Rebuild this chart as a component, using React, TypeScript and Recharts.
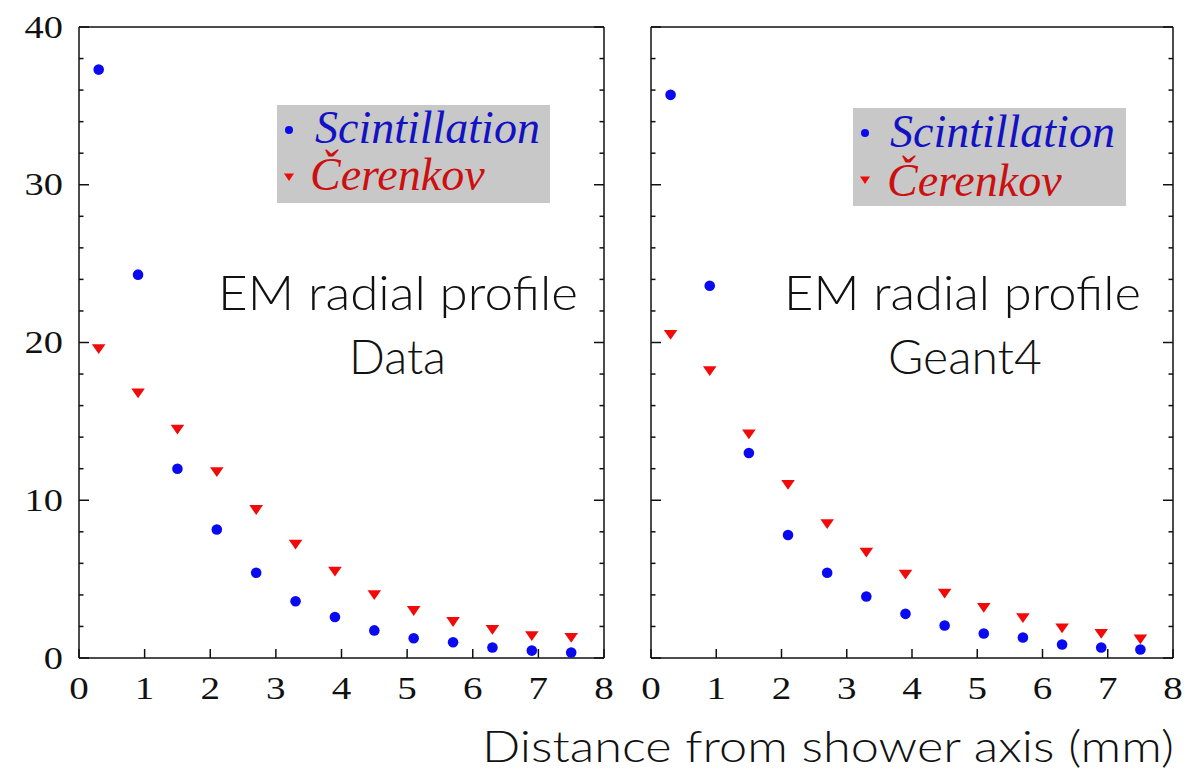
import React from 'react';
import { ScatterChart, Scatter, XAxis, YAxis, Legend } from 'recharts';

const distances = [0.3, 0.9, 1.5, 2.1, 2.7, 3.3, 3.9, 4.5, 5.1, 5.7, 6.3, 6.9, 7.5];
const dataScintillation = [37.3, 24.3, 12.0, 8.15, 5.4, 3.6, 2.6, 1.75, 1.25, 1.0, 0.67, 0.47, 0.35];
const dataCerenkov = [19.6, 16.8, 14.5, 11.8, 9.4, 7.2, 5.5, 4.0, 3.0, 2.3, 1.8, 1.4, 1.3];
const geantScintillation = [35.7, 23.6, 13.0, 7.8, 5.4, 3.9, 2.8, 2.06, 1.55, 1.3, 0.86, 0.67, 0.54];
const geantCerenkov = [20.5, 18.2, 14.2, 11.0, 8.5, 6.7, 5.3, 4.1, 3.2, 2.55, 1.9, 1.55, 1.2];
const xTicks = [0, 1, 2, 3, 4, 5, 6, 7, 8];
const yTicks = [0, 2, 4, 6, 8, 10, 12, 14, 16, 18, 20, 22, 24, 26, 28, 30, 32, 34, 36, 38, 40];
const yMajor = [0, 10, 20, 30, 40];
const seriesNames = ['Scintillation', 'Čerenkov'];
const panelTitles = [['EM radial profile', 'Data'], ['EM radial profile', 'Geant4']];
const axisTitle = 'Distance from shower axis (mm)';

const BLUE = '#0a0af0';
const RED = '#f00a0a';
const AXIS = '#111';
const SERIF = "'Liberation Serif', 'Times New Roman', Tinos, 'Nimbus Roman', FreeSerif, Times, serif";
const SANS = "Lato, 'Open Sans', sans-serif";

const toPoints = (ys: number[]) => distances.map((x, i) => ({ x, y: ys[i] }));

const Circle = (p: any) => <circle cx={p.cx} cy={p.cy} r={5.3} fill={BLUE} />;
const Tri = (p: any) => (
  <polygon
    points={`${p.cx - 6.8},${p.cy - 4.6} ${p.cx + 6.8},${p.cy - 4.6} ${p.cx},${p.cy + 5.2}`}
    fill={RED}
  />
);

const serifStyle = { fontFamily: SERIF };

const BottomTick = (p: any) => (
  <g>
    <line x1={p.x} y1={p.y} x2={p.x} y2={p.y - 9} stroke={AXIS} strokeWidth={1.5} />
    <text
      transform={`translate(${p.x},${p.y + 41}) scale(1.22,1)`}
      textAnchor="middle"
      style={serifStyle}
      fontSize={32}
      fill="#111"
    >
      {p.payload.value}
    </text>
  </g>
);
const TopTick = (p: any) => (
  <line x1={p.x} y1={p.y} x2={p.x} y2={p.y + 8} stroke={AXIS} strokeWidth={1.5} />
);
const makeLeftTick = (labels: boolean) => (p: any) => {
  const major = yMajor.includes(p.payload.value);
  return (
    <g>
      <line x1={p.x} y1={p.y} x2={p.x + (major ? 10 : 4.5)} y2={p.y} stroke={AXIS} strokeWidth={1.5} />
      {labels && major ? (
        <text
          transform={`translate(${p.x - 16},${p.y + 10.5}) scale(1.2,1)`}
          textAnchor="end"
          style={serifStyle}
          fontSize={32}
          fill="#111"
        >
          {p.payload.value}
        </text>
      ) : null}
    </g>
  );
};
const RightTick = (p: any) => {
  const major = yMajor.includes(p.payload.value);
  return <line x1={p.x} y1={p.y} x2={p.x - (major ? 10 : 4.5)} y2={p.y} stroke={AXIS} strokeWidth={1.5} />;
};

const PAD = 14;
const makeLegend = (pos: { dotX: number; dotY: number; sX: number; sY: number; cX: number; cY: number; triY: number }) => () => (
  <svg width={273 + 2 * PAD} height={98 + 2 * PAD} style={{ display: 'block' }}>
    <g transform={`translate(${PAD},${PAD})`}>
      <rect x={0} y={0} width={273} height={98} fill="#c8c8c8" />
      <circle cx={pos.dotX} cy={pos.dotY} r={4} fill={BLUE} />
      <text x={pos.sX} y={pos.sY} style={{ fontFamily: SERIF, fontStyle: 'italic', fontSize: 46 }} fill="#1212c4">
        {seriesNames[0]}
      </text>
      <polygon
        points={`${pos.dotX - 5},${pos.triY - 3.5} ${pos.dotX + 5},${pos.triY - 3.5} ${pos.dotX},${pos.triY + 4}`}
        fill={RED}
      />
      <text x={pos.cX} y={pos.cY} style={{ fontFamily: SERIF, fontStyle: 'italic', fontSize: 46 }} fill="#cc1010">
        {seriesNames[1]}
      </text>
    </g>
  </svg>
);

type PanelProps = {
  left: number;
  width: number;
  yAxisWidth: number;
  labels: boolean;
  scint: number[];
  ceren: number[];
  legendPos: { left: number; top: number };
  legend: any;
};

const Panel = ({ left, width, yAxisWidth, labels, scint, ceren, legendPos, legend }: PanelProps) => (
  <div style={{ position: 'absolute', left, top: 0 }}>
    <ScatterChart width={width} height={772} margin={{ top: 17, right: 6, bottom: 64, left: 0 }}>
      <XAxis
        xAxisId="b"
        type="number"
        dataKey="x"
        domain={[0, 8]}
        ticks={xTicks}
        orientation="bottom"
        height={50}
        tickSize={0}
        tickMargin={0}
        tickLine={false}
        axisLine={{ stroke: AXIS, strokeWidth: 1.5 }}
        tick={BottomTick}
        interval={0}
        allowDataOverflow
      />
      <XAxis
        xAxisId="t"
        type="number"
        domain={[0, 8]}
        ticks={xTicks}
        orientation="top"
        height={10}
        tickSize={0}
        tickMargin={0}
        tickLine={false}
        axisLine={{ stroke: AXIS, strokeWidth: 1.5 }}
        tick={TopTick}
        interval={0}
        allowDataOverflow
      />
      <YAxis
        yAxisId="l"
        type="number"
        dataKey="y"
        domain={[0, 40]}
        ticks={yTicks}
        orientation="left"
        width={yAxisWidth}
        tickSize={0}
        tickMargin={0}
        tickLine={false}
        axisLine={{ stroke: AXIS, strokeWidth: 1.5 }}
        tick={makeLeftTick(labels)}
        interval={0}
        allowDataOverflow
      />
      <YAxis
        yAxisId="r"
        type="number"
        domain={[0, 40]}
        ticks={yTicks}
        orientation="right"
        width={10}
        tickSize={0}
        tickMargin={0}
        tickLine={false}
        axisLine={{ stroke: AXIS, strokeWidth: 1.5 }}
        tick={RightTick}
        interval={0}
        allowDataOverflow
      />
      <Legend
        layout="vertical"
        align="center"
        verticalAlign="middle"
        content={legend}
        wrapperStyle={{ left: legendPos.left - PAD, top: legendPos.top - PAD, width: 273 + 2 * PAD, height: 98 + 2 * PAD }}
      />
      <Scatter
        name={seriesNames[1]}
        data={toPoints(ceren)}
        xAxisId="b"
        yAxisId="l"
        shape={Tri}
        isAnimationActive={false}
      />
      <Scatter
        name={seriesNames[0]}
        data={toPoints(scint)}
        xAxisId="b"
        yAxisId="l"
        shape={Circle}
        isAnimationActive={false}
      />
    </ScatterChart>
  </div>
);

export default function App() {
  return (
    <div style={{ position: 'absolute', left: 0, top: 0, width: 1189, height: 772, background: '#fff', overflow: 'hidden' }}>
      <Panel
        left={0}
        width={620}
        yAxisWidth={79}
        labels={true}
        scint={dataScintillation}
        ceren={dataCerenkov}
        legendPos={{ left: 277, top: 105 }}
        legend={makeLegend({ dotX: 12, dotY: 25, sX: 38, sY: 38, cX: 33, cY: 85, triY: 72 })}
      />
      <Panel
        left={620}
        width={569}
        yAxisWidth={31}
        labels={false}
        scint={geantScintillation}
        ceren={geantCerenkov}
        legendPos={{ left: 233, top: 108 }}
        legend={makeLegend({ dotX: 12, dotY: 25, sX: 37, sY: 39, cX: 34, cY: 88, triY: 72 })}
      />
      <svg width={1189} height={772} style={{ position: 'absolute', left: 0, top: 0, pointerEvents: 'none' }}>
        <g style={{ fontFamily: SANS, fontSize: 47, fontWeight: 300 }} fill="#111">
          <text x={218} y={310} textLength={360} lengthAdjust="spacingAndGlyphs">{panelTitles[0][0]}</text>
          <text x={349} y={374} textLength={97} lengthAdjust="spacingAndGlyphs">{panelTitles[0][1]}</text>
          <text x={784} y={310} textLength={357} lengthAdjust="spacingAndGlyphs">{panelTitles[1][0]}</text>
          <text x={888} y={374} textLength={154} lengthAdjust="spacingAndGlyphs">{panelTitles[1][1]}</text>
        </g>
        <text x={482} y={762} style={{ fontFamily: SANS, fontSize: 43, fontWeight: 300 }} fill="#111" textLength={692} lengthAdjust="spacingAndGlyphs">
          {axisTitle}
        </text>
      </svg>
    </div>
  );
}
